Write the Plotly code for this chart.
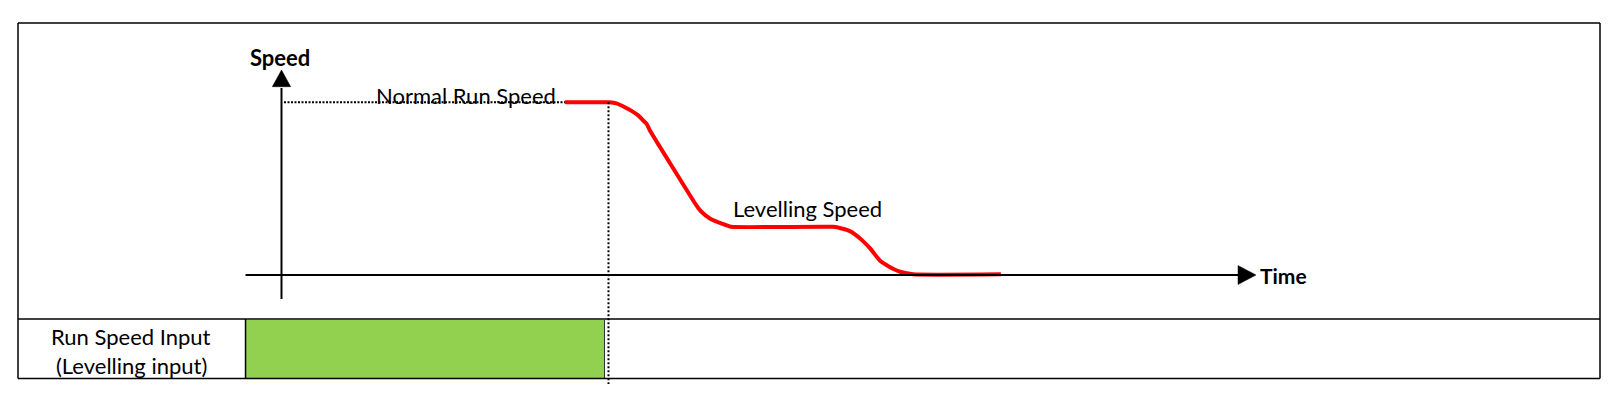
import plotly.graph_objects as go

# ---------------- data (time in s, speed in % of normal run speed) ----------------
curve_time = [5.20, 6.00, 6.16, 6.30, 6.43, 6.55, 6.63, 6.70, 6.76, 7.59, 7.65, 7.71,
              7.86, 7.95, 8.08, 8.25, 10.12, 10.28, 10.43, 10.54, 10.65, 10.80, 10.92,
              11.00, 11.10, 11.22, 11.35, 11.59, 13.20]
curve_speed = [100, 100, 99.2, 97.1, 94.9, 92.3, 89.7, 87.5, 83.7, 41.4, 38.7, 36.5,
               32.7, 31.3, 29.7, 27.9, 27.9, 26.9, 25.4, 23.1, 20.2, 15.4, 10.6,
               7.8, 5.8, 3.6, 1.9, 0.4, 0.4]
normal_run_speed = 100
decel_start_time = 6.0
input_on_start = -0.66
input_on_end = 5.94
time_axis_start = -0.66
time_axis_end = 17.88
speed_axis_start = -13.9
speed_axis_end = 118.7
labels = {"speed": "Speed", "time": "Time", "normal": "Normal Run Speed",
          "level": "Levelling Speed", "row1": "Run Speed Input", "row2": "(Levelling input)"}

# ---------------- layout helpers (pixel -> axis units) ----------------
W, H = 1621, 394
PX_T0, PX_PER_T = 281.5, 54.5
PX_S0, PX_PER_S = 275.0, 1.727


def tx(px):
    return (px - PX_T0) / PX_PER_T


def sy(py):
    return (PX_S0 - py) / PX_PER_S


FONT = "Lato"
fig = go.Figure()

# green input bar in the table row
row_top, row_bot = sy(319), sy(378.5)
fig.add_trace(go.Bar(
    y=[(row_top + row_bot) / 2], x=[input_on_end - input_on_start], base=[input_on_start],
    orientation="h", width=row_top - row_bot,
    marker=dict(color="#92D050", line=dict(color="#333333", width=1)),
    showlegend=False, hoverinfo="skip"))

# speed curve
fig.add_trace(go.Scatter(
    x=curve_time, y=curve_speed, mode="lines",
    line=dict(color="#FF0000", width=4, shape="spline", smoothing=0.4),
    showlegend=False, hoverinfo="skip"))

shapes = []
# table frame
L, R, T, D, B = tx(18), tx(1600), sy(23), sy(319), sy(378.5)
shapes += [
    dict(type="line", x0=L, x1=R, y0=T, y1=T, line=dict(color="#404040", width=2)),
    dict(type="line", x0=L, x1=R, y0=D, y1=D, line=dict(color="#404040", width=2)),
    dict(type="line", x0=L, x1=R, y0=B, y1=B, line=dict(color="#000000", width=1.5)),
    dict(type="line", x0=L, x1=L, y0=T, y1=B, line=dict(color="#000000", width=1.5)),
    dict(type="line", x0=R, x1=R, y0=T, y1=B, line=dict(color="#000000", width=1.5)),
    dict(type="line", x0=input_on_start, x1=input_on_start, y0=D, y1=B,
         line=dict(color="#000000", width=1.5)),
]
# axes
shapes += [
    dict(type="line", x0=time_axis_start, x1=tx(1240), y0=0, y1=0,
         line=dict(color="#000000", width=2)),
    dict(type="line", x0=0, x1=0, y0=speed_axis_start, y1=sy(88),
         line=dict(color="#000000", width=2)),
]
# arrow heads
hw = 9.2 / PX_PER_T
sb = sy(86.7)
shapes.append(dict(type="path",
                   path=f"M {-hw} {sb} L {hw} {sb} L 0 {speed_axis_end} Z",
                   fillcolor="#000000", line=dict(color="#000000", width=0.5)))
hh = 9.5 / PX_PER_S
tb = tx(1238)
shapes.append(dict(type="path",
                   path=f"M {tb} {-hh} L {tb} {hh} L {time_axis_end} 0 Z",
                   fillcolor="#000000", line=dict(color="#000000", width=0.5)))
# dotted guides
shapes += [
    dict(type="line", x0=tx(284), x1=curve_time[0], y0=normal_run_speed, y1=normal_run_speed,
         line=dict(color="#000000", width=2, dash="2px,1.5px")),
    dict(type="line", x0=decel_start_time, x1=decel_start_time, y0=normal_run_speed, y1=sy(384),
         line=dict(color="#000000", width=2, dash="2px,2px")),
]

ann = [
    dict(x=tx(280), y=sy(57.5), text=f"<b>{labels['speed']}</b>", font=dict(size=22)),
    dict(x=tx(1258), y=sy(275.5), text=f"<b>{labels['time']}</b>", xanchor="left", font=dict(size=21)),
    dict(x=tx(466), y=sy(95), text=labels["normal"], font=dict(size=22)),
    dict(x=tx(807.5), y=sy(208.5), text=labels["level"], font=dict(size=22)),
    dict(x=tx(131), y=sy(336), text=labels["row1"], font=dict(size=22)),
    dict(x=tx(131), y=sy(365), text=labels["row2"], font=dict(size=22)),
]
for a in ann:
    a.setdefault("xanchor", "center")
    a.update(xref="x", yref="y", yanchor="middle", showarrow=False)
    a["font"].update(family=FONT, color="#000000")

fig.update_layout(
    width=W, height=H, margin=dict(l=0, r=0, t=0, b=0),
    paper_bgcolor="white", plot_bgcolor="white",
    xaxis=dict(range=[tx(0), tx(W)], visible=False, fixedrange=True),
    yaxis=dict(range=[sy(H), sy(0)], visible=False, fixedrange=True),
    shapes=shapes, annotations=ann, hovermode=False, bargap=0,
)

fig.write_html("out.html", config={"displayModeBar": False},
               post_script="document.body.style.margin='0';document.body.style.overflow='hidden';")
